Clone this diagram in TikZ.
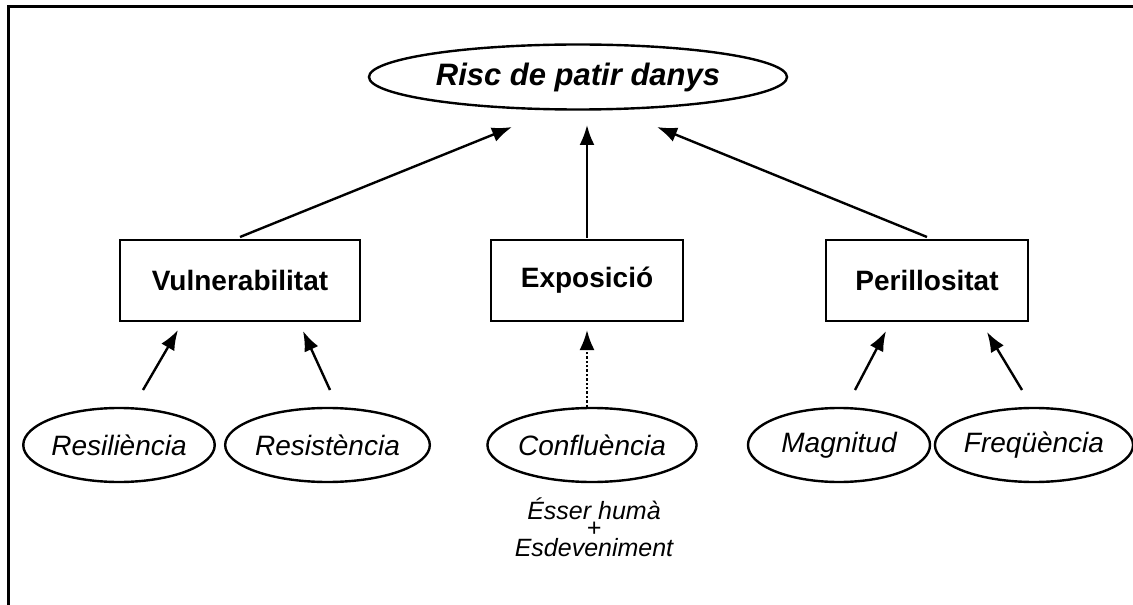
\documentclass[tikz,border=0pt]{standalone}
\usepackage{fontspec}
\setmainfont{Liberation Sans}
\usetikzlibrary{shapes.geometric,arrows.meta}
\begin{document}
\begin{tikzpicture}[x=1bp,y=-1bp,
  oval/.style={draw,ellipse,line width=2.4bp,inner sep=0pt,minimum width=182bp,minimum height=74bp,
    font=\fontsize{28bp}{32bp}\selectfont\itshape},
  topoval/.style={draw,ellipse,line width=2.4bp,inner sep=0pt,minimum width=418bp,minimum height=65bp,
    font=\fontsize{31bp}{35bp}\selectfont\bfseries\itshape},
  box/.style={draw,rectangle,line width=2.4bp,inner sep=0pt,minimum height=81bp,
    font=\fontsize{28bp}{32bp}\selectfont\bfseries},
  arr/.style={line width=2.4bp,-{Latex[length=20bp,width=15bp]}},
  dotarr/.style={line width=2.4bp,dotted,-{Latex[length=20bp,width=15bp]}}
]
\useasboundingbox (0,0) rectangle (1133,605);
\draw[line width=3bp] (8.5,605) -- (8.5,6.5) -- (1133,6.5);

\node[topoval] (risc) at (578,77) {Risc de patir danys};

\node[box,minimum width=240bp] (vul) at (240,280.5) {Vulnerabilitat};
\node[box,minimum width=192bp] (exp) at (587,280.5) {Exposició};
\node[box,minimum width=202bp] (per) at (927,280.5) {Perillositat};

\node[oval] (resil) at (119,445) {Resiliència};
\node[oval] (resis) at (327.5,445) {Resistència};
\node[oval] (conf) at (592,445) {Confluència};
\node[oval] (mag) at (839,445) {Magnitud};
\node[oval] (freq) at (1034,445) {Freqüència};

\node[font=\fontsize{25bp}{17.5bp}\selectfont\itshape,align=center,inner sep=0pt] (esser) at (594,527)
  {Ésser humà\\+\\Esdeveniment};

% top arrows
\coordinate (v1) at (240,237);
\coordinate (v2) at (512,127);
\coordinate (e1) at (587,238);
\coordinate (e2) at (587,125);
\coordinate (p1) at (927,237);
\coordinate (p2) at (657,127);
\draw[arr] (v1) -- (v2);
\draw[arr] (e1) -- (e2);
\draw[arr] (p1) -- (p2);

% bottom arrows
\coordinate (a1) at (143,390);
\coordinate (a2) at (178,330);
\coordinate (b1) at (330,390);
\coordinate (b2) at (303,331);
\coordinate (c1) at (587,407);
\coordinate (c2) at (587,330);
\coordinate (d1) at (855,390);
\coordinate (d2) at (886,331);
\coordinate (f1) at (1022,390);
\coordinate (f2) at (987,332);
\draw[arr] (a1) -- (a2);
\draw[arr] (b1) -- (b2);
\draw[dotarr] (c1) -- (c2);
\draw[arr] (d1) -- (d2);
\draw[arr] (f1) -- (f2);
\end{tikzpicture}
\end{document}
